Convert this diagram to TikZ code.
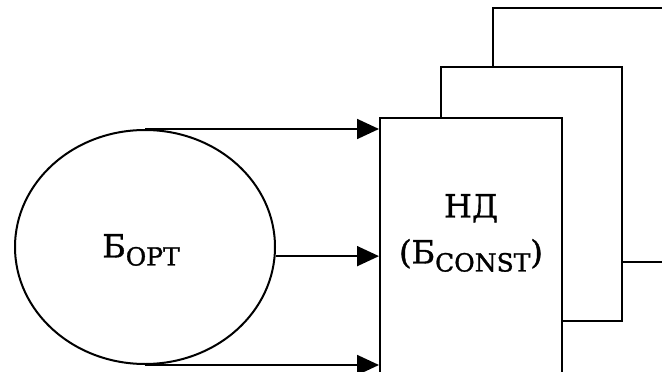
\documentclass[tikz,border=0pt]{standalone}
\usepackage{fontspec}
\setmainfont{DejaVu Serif}[BoldFont=DejaVu Serif,BoldFeatures={FakeBold=1.2}]
\usetikzlibrary{shapes.geometric,arrows.meta}
% lowered subscript in a smaller size
\newcommand{\lowtext}[1]{\raisebox{-8pt}{\fontsize{25}{25}\selectfont #1}}
\begin{document}
\begin{tikzpicture}[x=1pt,y=-1pt,
  frame/.style={draw,line width=2pt,fill=white,rectangle,inner sep=0pt},
  link/.style={line width=1.8pt,-{Triangle[length=22pt,width=20pt]}},
  lbl/.style={font=\fontsize{32}{46}\selectfont\bfseries,inner sep=0pt,align=center}]
\useasboundingbox (0,0) rectangle (662,372);
\clip (0,0) rectangle (662,372);
% stacked blocks, back to front
\node[frame,minimum width=207pt,minimum height=254pt] (back) at (596.5,135) {};
\node[frame,minimum width=181pt,minimum height=254pt] (mid) at (531.5,194) {};
\node[frame,minimum width=182pt,minimum height=312pt] (front) at (471,274) {};
\node[lbl] (ndtext) at (471,233) {НД\\(Б\lowtext{CONST})};
% source set
\node[ellipse,draw,line width=2pt,minimum width=260pt,minimum height=234pt,inner sep=0pt] (ell) at (145,247) {};
\node[lbl] (elltext) at (141,250) {Б\lowtext{OPT}};
% connections
\draw[link] (ell.north) -- (ell.north -| front.west);
\draw[link] (ell.-4) -- (ell.-4 -| front.west);
\draw[link] (ell.south) -- (ell.south -| front.west);
\end{tikzpicture}
\end{document}
